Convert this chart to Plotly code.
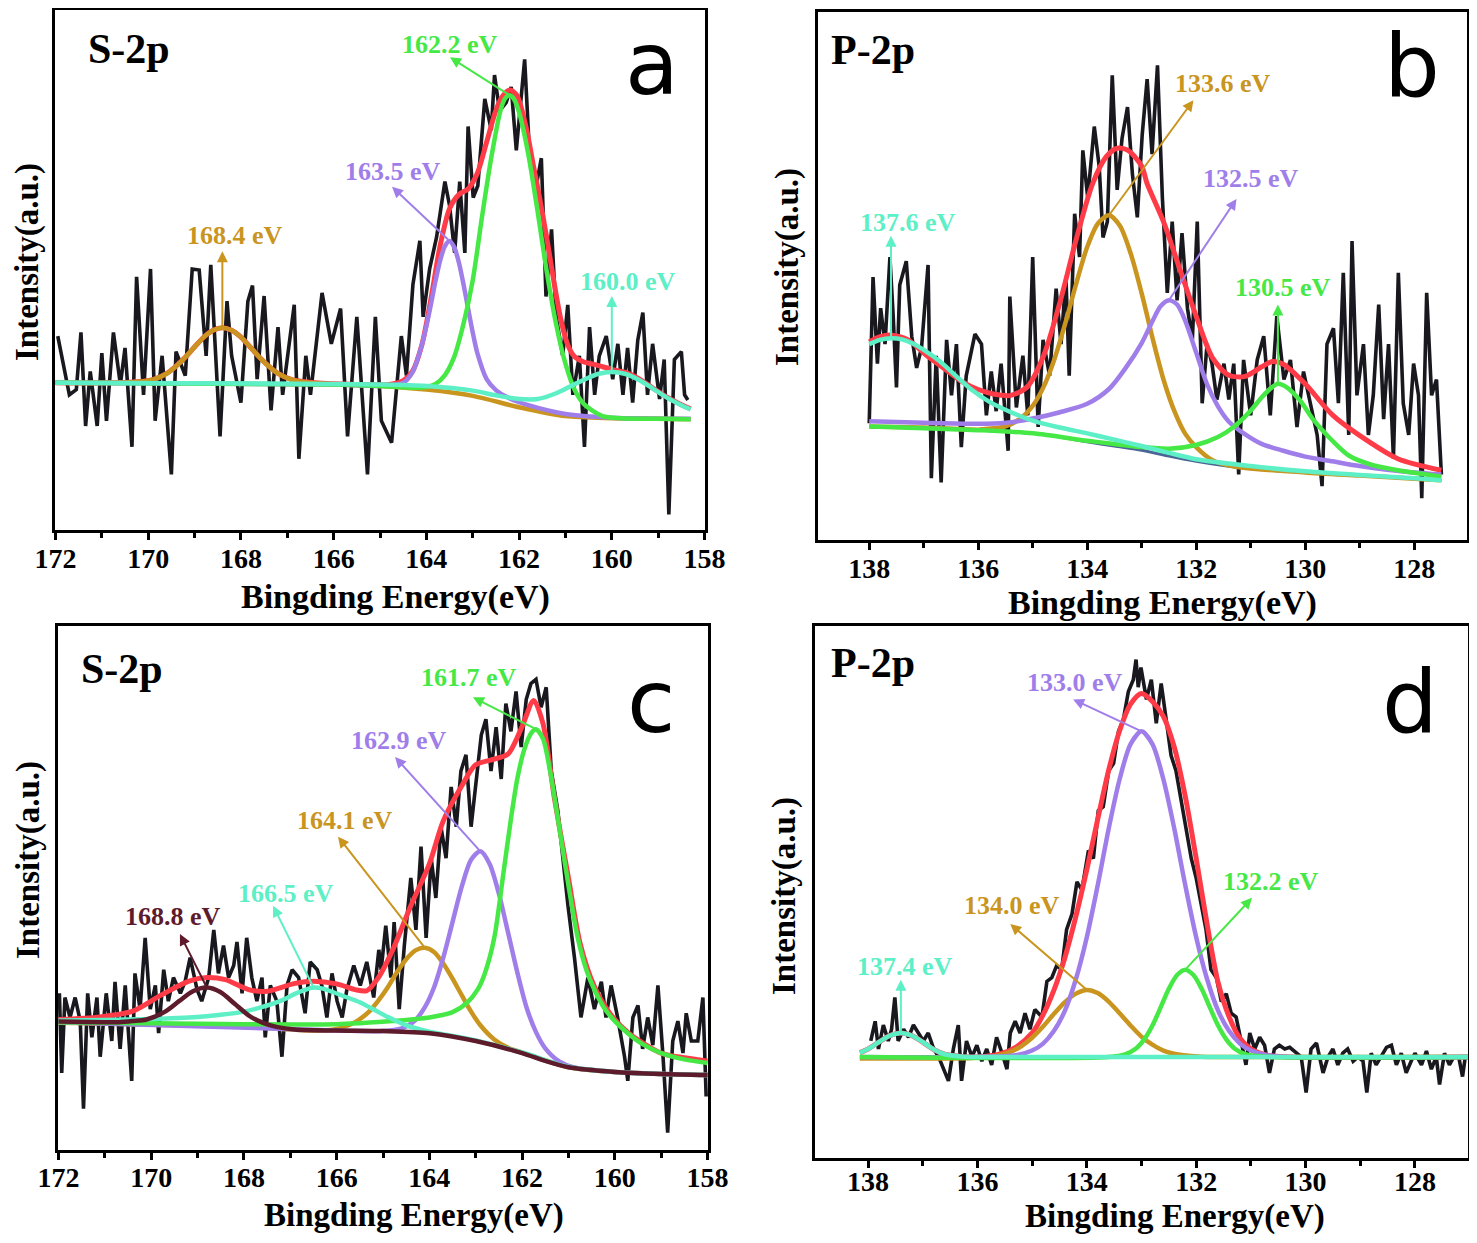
import plotly.graph_objects as go

# page is 1477 x 1243, the html body adds an 8 px margin on every side
PAGE_W, PAGE_H = 1477, 1243
OFF = 8
W, H = PAGE_W - 2 * OFF, PAGE_H - 2 * OFF

# ---------------- colours ----------------
RED = '#FF3B47'
GREEN = '#46E846'
PURPLE = '#A07EEA'
ORANGE = '#C9951F'
CYAN = '#5DEFC6'
MAROON = '#5E1B2C'
BLACK = '#18181e'
STEEL = '#4B6596'

# ---------------- panel a : S-2p ----------------
A_DATA = [(171.95, 37.3), (171.8, 30), (171.7, 26), (171.55, 27), (171.45, 38), (171.35, 20), (171.25, 30.5),
          (171.1, 20), (171.0, 34), (170.9, 21), (170.75, 38), (170.6, 28), (170.5, 35), (170.35, 16),
          (170.25, 48.7), (170.1, 26), (169.95, 50.2), (169.85, 21), (169.7, 33.5), (169.5, 10.7),
          (169.4, 34.3), (169.2, 29.7), (169.05, 50.2), (168.9, 50), (168.75, 33.5), (168.65, 51),
          (168.45, 18), (168.3, 44), (168.2, 33.5), (168.0, 24.5), (167.85, 44), (167.75, 47), (167.65, 29),
          (167.5, 45), (167.35, 23), (167.2, 39), (167.1, 26), (166.85, 43.3), (166.75, 13.7), (166.6, 33.5),
          (166.5, 26), (166.25, 45.6), (166.05, 35.8), (165.85, 42.6), (165.7, 18), (165.5, 41),
          (165.27, 10.7), (165.1, 41), (164.97, 21), (164.75, 16.8), (164.54, 37.3), (164.43, 29.7),
          (164.29, 47.2), (164.14, 55.6), (164.07, 41), (163.93, 50.2), (163.78, 56.3), (163.6, 67),
          (163.5, 62.4), (163.39, 53.3), (163.28, 67), (163.17, 53.3), (163.1, 77.6), (162.99, 63.9),
          (162.89, 66.2), (162.74, 82.9), (162.6, 76.9), (162.53, 87.5), (162.42, 80.6), (162.28, 82.2),
          (162.17, 85.2), (162.06, 73), (161.88, 90.5), (161.77, 71.5), (161.63, 66.2), (161.52, 71.5),
          (161.42, 44.9), (161.3, 57.8), (161.2, 41), (161.06, 33.5), (160.95, 43.3), (160.84, 26),
          (160.7, 33.5), (160.59, 16), (160.48, 39), (160.37, 26), (160.27, 33.5), (160.12, 37.3),
          (159.98, 29), (159.87, 35.8), (159.76, 26), (159.66, 35), (159.55, 24.5), (159.44, 36.5),
          (159.33, 41.8), (159.23, 26), (159.12, 35.8), (158.97, 25.2), (158.87, 32.8), (158.77, 3),
          (158.65, 32.8), (158.5, 34.3), (158.43, 26), (158.36, 25)]

A_ORANGE = [(172, 28.3), (170.4, 28.4), (169.9, 28.9), (169.6, 30.1), (169.4, 31.5), (169.2, 33.2), (169.0, 35.2),
            (168.8, 37.1), (168.6, 38.4), (168.4, 38.9), (168.2, 38.4), (168.0, 37.1), (167.8, 35.2),
            (167.6, 33.2), (167.4, 31.5), (167.2, 30.1), (166.9, 28.9), (166.4, 28.2), (165, 27.7),
            (164, 27.0), (163, 25.8), (162, 23.6), (161, 21.9), (160, 21.5), (159, 21.4), (158.3, 21.3)]
A_PURPLE = [(172, 28.3), (166, 28.0), (165, 27.7), (164.5, 28.3), (164.3, 30.3), (164.1, 35.5), (164.0, 39.2),
            (163.9, 43.5), (163.8, 48.0), (163.7, 51.9), (163.6, 54.6), (163.5, 55.6), (163.4, 54.4),
            (163.3, 51.5), (163.2, 47.3), (163.1, 42.6), (163.0, 38.0), (162.9, 34.0), (162.7, 29.0),
            (162.5, 26.9), (162.2, 25.3), (161.8, 24.0), (161.0, 22.3), (160, 21.6), (158.3, 21.4)]
A_GREEN = [(172, 28.3), (166, 28.0), (165, 27.7), (164.6, 27.5), (164.2, 27.35), (164.0, 27.5), (163.8, 28.1),
           (163.6, 29.8), (163.4, 33.3), (163.2, 39.6), (163.0, 48.0), (162.8, 60.2), (162.6, 71.6),
           (162.4, 80.7), (162.3, 83.0), (162.2, 83.6), (162.1, 82.7), (162.0, 80.3), (161.8, 72.2),
           (161.6, 61.2), (161.4, 49.5), (161.2, 39.5), (161.0, 32.0), (160.8, 26.9), (160.6, 24.2),
           (160.2, 21.9), (159.8, 21.5), (159, 21.4), (158.3, 21.3)]
A_CYAN = [(172, 28.3), (166, 28.1), (165, 28.0), (164, 27.7), (163, 26.8), (162.5, 25.9), (162.0, 25.2),
          (161.6, 25.2), (161.2, 26.3), (160.9, 27.6), (160.6, 28.9), (160.3, 30.0), (160.0, 30.4),
          (159.7, 30.0), (159.4, 28.8), (159.1, 27.1), (158.8, 25.4), (158.5, 24.0), (158.3, 23.2)]
A_RED = [(172, 28.3), (170.4, 28.4), (169.9, 28.9), (169.6, 30.1), (169.4, 31.5), (169.2, 33.2), (169.0, 35.2),
         (168.8, 37.1), (168.6, 38.4), (168.4, 38.9), (168.2, 38.4), (168.0, 37.1), (167.8, 35.2), (167.6, 33.2),
         (167.4, 31.5), (167.2, 30.1), (166.9, 28.9), (166.4, 28.3), (165.5, 28.0), (164.8, 28.0), (164.5, 28.7),
         (164.3, 30.5), (164.1, 35.5), (163.9, 44.5), (163.7, 54.8), (163.5, 61.8), (163.3, 64.5), (163.1, 65.6),
         (162.9, 68.6), (162.7, 74.6), (162.5, 80.7), (162.35, 83.5), (162.2, 84.6), (162.05, 83.6),
         (161.85, 77.5), (161.7, 70.5), (161.55, 63.5), (161.4, 56.0), (161.25, 47.8), (161.1, 40.5),
         (160.95, 35.6), (160.8, 33.3), (160.6, 32.3), (160.4, 31.9), (160.2, 31.4), (160.0, 30.9),
         (159.7, 30.3), (159.4, 29.0), (159.1, 27.2), (158.8, 25.5), (158.5, 24.1), (158.3, 23.3)]
A_PEAKS = [168.4, 163.5, 162.2, 160.0]

# ---------------- panel b : P-2p ----------------
B_DATA = [(138.0, 22.1), (137.93, 49.8), (137.85, 33.4), (137.79, 43.9), (137.71, 37.1), (137.62, 53.6),
          (137.56, 42.4), (137.5, 28.9), (137.44, 48.3), (137.32, 52.8), (137.22, 38.6), (137.13, 32.6),
          (137.04, 36.4), (136.92, 52.1), (136.86, 11.7), (136.77, 34.9), (136.68, 10.9), (136.58, 37.9),
          (136.49, 27.4), (136.4, 37.1), (136.31, 17.6), (136.22, 31.1), (136.06, 39.0), (135.94, 37.1),
          (135.85, 23.6), (135.76, 31.9), (135.67, 24.4), (135.58, 33.4), (135.45, 16.9), (135.42, 46.1),
          (135.3, 25.1), (135.18, 34.9), (135.09, 23.6), (135.0, 53.6), (134.9, 21.4), (134.81, 37.9),
          (134.69, 31.1), (134.57, 47.6), (134.48, 37.1), (134.39, 49.8), (134.33, 31.1), (134.23, 61.8),
          (134.14, 53.6), (134.08, 73.8), (133.99, 64.8), (133.87, 78.3), (133.78, 70.8), (133.71, 57.3),
          (133.63, 60.3), (133.54, 88.0), (133.45, 66.3), (133.36, 76.1), (133.26, 82.0), (133.17, 69.3),
          (133.08, 61.1), (132.99, 76.8), (132.9, 87.3), (132.81, 73.1), (132.71, 89.9), (132.62, 64.8),
          (132.53, 46.8), (132.44, 60.3), (132.35, 45.4), (132.26, 58.1), (132.16, 43.9), (132.07, 37.9),
          (131.98, 60.3), (131.89, 25.9), (131.8, 37.1), (131.71, 33.4), (131.62, 26.6), (131.49, 33.4),
          (131.4, 26.6), (131.31, 33.4), (131.22, 12.4), (131.13, 34.1), (131.0, 23.6), (130.88, 34.1),
          (130.76, 38.6), (130.64, 23.6), (130.52, 42.4), (130.39, 30.4), (130.27, 34.1), (130.15, 21.4),
          (130.03, 31.9), (129.91, 25.9), (129.78, 19.9), (129.69, 10.2), (129.6, 37.1), (129.48, 40.1),
          (129.39, 25.9), (129.3, 50.6), (129.2, 19.9), (129.14, 56.6), (129.05, 27.4), (128.93, 37.1),
          (128.84, 19.9), (128.75, 27.4), (128.65, 44.6), (128.56, 22.9), (128.47, 37.1), (128.38, 15.4),
          (128.29, 50.6), (128.2, 25.9), (128.1, 19.9), (128.01, 33.4), (127.92, 27.4), (127.86, 7.9),
          (127.77, 46.8), (127.68, 27.4), (127.59, 30.4), (127.5, 12.4)]
B_BG = [(138, 21.5), (137, 21.2), (136, 20.8), (135, 20.2), (134.5, 19.5), (134, 18.6), (133.5, 17.8), (133, 17.0),
        (132.5, 15.9), (132, 14.9), (131.5, 14.1), (131, 13.5), (130, 12.8), (129, 12.2), (128, 11.6),
        (127.5, 11.3)]
B_ORANGE = [(138, 21.5), (137, 21.3), (136, 20.9), (135.9, 21.0), (135.5, 21.5), (135.2, 23.2), (135.0, 25.4),
            (134.8, 29.0), (134.6, 34.3), (134.4, 41.1), (134.2, 48.6), (134.0, 55.5), (133.8, 60.0),
            (133.6, 61.5), (133.4, 59.5), (133.2, 54.2), (133.0, 46.7), (132.8, 38.2), (132.6, 30.4),
            (132.4, 24.4), (132.2, 20.1), (132.0, 17.6), (131.7, 15.1), (131.3, 13.9), (130, 12.8), (129, 12.2),
            (128, 11.6), (127.5, 11.3)]
B_PURPLE = [(138, 22.5), (137, 22.2), (136, 22.0), (135.5, 22.2), (135, 23.0), (134.5, 24.2), (134, 25.8),
            (133.6, 28.6), (133.3, 32.5), (133.0, 37.3), (132.8, 41.5), (132.65, 44.3), (132.5, 45.4),
            (132.35, 44.6), (132.2, 41.5), (132.0, 35.5), (131.8, 29.5), (131.6, 25.3), (131.4, 22.4),
            (131.1, 20.0), (130.8, 18.2), (130.4, 16.9), (130.0, 15.8), (129.5, 14.9), (129, 14.0), (128.5, 13.3),
            (128, 12.8), (127.5, 12.4)]
B_GREEN = [(138, 21.5), (136, 20.8), (135, 20.2), (134, 18.8), (133.5, 18.2), (133, 17.6), (132.5, 17.3),
           (132, 18.0), (131.6, 19.5), (131.3, 21.5), (131.0, 24.5), (130.8, 27.0), (130.6, 29.0), (130.5, 29.6),
           (130.35, 29.0), (130.1, 26.5), (129.85, 22.8), (129.5, 18.8), (129.2, 16.0), (128.8, 14.3),
           (128.3, 13.2), (127.5, 12.0)]
B_CYAN = [(138, 37.1), (137.8, 37.9), (137.6, 38.2), (137.4, 38.0), (137.2, 37.2), (137.0, 36.0), (136.7, 33.8),
          (136.4, 31.0), (136.1, 28.3), (135.8, 26.2), (135.4, 24.2), (135.0, 22.6), (134.5, 21.3), (134, 20.2),
          (133.5, 19.0), (133, 17.8), (132.5, 16.5), (132, 15.3), (131, 14.0), (130, 13.0), (129, 12.3),
          (128, 11.7), (127.5, 11.3)]
B_RED = [(138, 37.5), (137.8, 38.5), (137.6, 38.8), (137.3, 38.0), (136.95, 35.0), (136.6, 32.3), (136.3, 30.0),
         (136.0, 28.5), (135.7, 27.6), (135.4, 27.4), (135.1, 29.0), (134.8, 34.9), (134.5, 45.0), (134.2, 57.0),
         (133.9, 67.5), (133.65, 72.6), (133.45, 74.2), (133.25, 73.8), (133.0, 70.8), (132.9, 67.5),
         (132.6, 60.3), (132.3, 51.3), (132.0, 42.4), (131.7, 34.5), (131.4, 31.2), (131.1, 31.0), (130.8, 32.8),
         (130.6, 33.8), (130.4, 33.3), (130.0, 29.6), (129.5, 23.7), (128.9, 19.1), (128.3, 15.4), (127.5, 13.2)]
B_PEAKS = [137.6, 133.6, 132.5, 130.5]

# ---------------- panel c : S-2p ----------------
C_DATA = [(171.98, 29.9), (171.93, 14.7), (171.86, 29.1), (171.75, 25.3), (171.64, 29.1), (171.53, 24.6),
          (171.46, 7.9), (171.37, 29.9), (171.28, 21.5), (171.17, 29.1), (171.1, 17.8), (170.97, 29.9),
          (170.85, 20.8), (170.78, 32.1), (170.67, 19.3), (170.56, 31.4), (170.42, 13.2), (170.35, 33.7),
          (170.24, 26.9), (170.13, 40.5), (170.02, 26.9), (169.91, 31.4), (169.84, 22.3), (169.73, 34.4),
          (169.63, 28.4), (169.52, 32.9), (169.37, 29.9), (169.27, 32.1), (169.16, 36.7), (169.01, 30.6),
          (168.91, 28.4), (168.76, 32.9), (168.65, 42.0), (168.55, 33.7), (168.44, 39.0), (168.33, 32.9),
          (168.22, 35.2), (168.15, 39.7), (168.04, 29.9), (167.94, 40.5), (167.83, 32.9), (167.72, 28.4),
          (167.61, 32.9), (167.54, 21.5), (167.43, 31.4), (167.29, 28.4), (167.18, 17.8), (167.07, 31.4),
          (166.96, 34.4), (166.82, 32.9), (166.68, 26.1), (166.57, 35.9), (166.42, 34.4), (166.32, 31.4),
          (166.21, 25.3), (166.1, 33.7), (165.99, 28.4), (165.88, 25.3), (165.78, 30.6), (165.63, 35.2),
          (165.49, 31.4), (165.35, 35.9), (165.2, 29.1), (165.09, 38.2), (165.04, 34.4), (164.94, 42.8),
          (164.83, 32.9), (164.76, 43.5), (164.65, 26.9), (164.54, 39.0), (164.4, 51.9), (164.29, 42.0),
          (164.18, 57.9), (164.07, 40.5), (163.96, 55.7), (163.86, 48.1), (163.75, 61.7), (163.64, 55.7),
          (163.53, 69.3), (163.42, 61.7), (163.32, 72.3), (163.21, 75.4), (163.1, 61.7), (162.99, 70.8),
          (162.88, 79.2), (162.78, 82.2), (162.67, 72.3), (162.56, 80.7), (162.45, 70.8), (162.35, 85.2),
          (162.24, 79.9), (162.13, 87.5), (162.02, 76.9), (161.91, 86.0), (161.81, 89.0), (161.7, 89.8),
          (161.59, 84.5), (161.48, 88.3), (161.37, 72.3), (161.23, 64.8), (161.12, 55.7), (161.01, 46.6),
          (160.87, 36.7), (160.73, 25.3), (160.58, 32.9), (160.44, 26.9), (160.29, 32.1), (160.19, 25.3),
          (160.08, 31.4), (159.94, 25.3), (159.79, 17.8), (159.72, 13.2), (159.61, 25.3), (159.5, 27.6),
          (159.4, 19.3), (159.29, 25.3), (159.18, 20.0), (159.07, 31.4), (158.96, 17.8), (158.86, 3.3),
          (158.75, 20.8), (158.64, 24.6), (158.53, 18.5), (158.46, 26.1), (158.35, 20.8), (158.21, 20.8),
          (158.1, 29.1), (158.03, 10.2)]
C_MAROON = [(172, 24.5), (171, 24.4), (170.7, 24.4), (170.4, 24.6), (170.1, 24.9), (169.7, 26.4), (169.4, 28.4),
            (169.1, 30.3), (168.8, 31.0), (168.5, 30.1), (168.2, 27.9), (167.9, 25.7), (167.6, 24.3),
            (167.3, 23.5), (166.9, 23.0), (166, 22.8), (165, 22.7), (164, 22.3), (163, 20.8), (162, 18.5),
            (161.5, 17.0), (161, 15.8), (160, 14.9), (159, 14.5), (158, 14.3)]
C_CYAN = [(172, 24.7), (171, 24.8), (170, 25.0), (169, 25.4), (168.5, 25.8), (168, 26.4), (167.6, 27.3),
          (167.2, 28.5), (166.9, 29.8), (166.7, 30.5), (166.5, 31.0), (166.3, 30.8), (166.1, 30.2),
          (165.8, 29.2), (165.5, 28.2), (165.2, 26.8), (164.9, 25.4), (164.5, 23.8), (164, 22.6), (163, 20.9),
          (162, 18.6), (161, 15.9), (160, 14.9), (158, 14.3)]
C_ORANGE = [(172, 24.3), (168, 23.5), (166.3, 22.8), (165.9, 23.3), (165.6, 24.4), (165.3, 26.4), (165.1, 28.5),
            (164.9, 31.0), (164.7, 33.9), (164.5, 36.4), (164.3, 38.1), (164.1, 38.6), (163.9, 37.8),
            (163.7, 35.6), (163.5, 32.7), (163.3, 29.5), (163.1, 26.4), (162.9, 23.8), (162.6, 21.1),
            (162.3, 19.5), (162, 18.6), (161, 15.8), (160, 14.9), (158, 14.3)]
C_PURPLE = [(172, 24.4), (166, 22.8), (165, 22.7), (164.6, 23.2), (164.3, 24.8), (164.1, 27.2), (163.9, 31.0),
            (163.7, 36.7), (163.5, 43.5), (163.3, 50.3), (163.1, 55.4), (162.9, 57.0), (162.7, 54.6),
            (162.5, 48.9), (162.3, 41.4), (162.1, 33.8), (161.9, 27.1), (161.7, 22.5), (161.5, 19.4),
            (161.2, 16.9), (160.9, 15.8), (160, 14.9), (158, 14.3)]
C_GREEN = [(172, 24.4), (170, 24.2), (168, 24.0), (166, 24.0), (165.5, 24.2), (164.8, 24.6), (164.0, 25.3),
           (163.5, 26.3), (163.2, 28.0), (162.96, 30.6), (162.8, 33.8), (162.6, 40.5), (162.4, 53.0),
           (162.24, 63.2), (162.1, 71.0), (161.95, 76.5), (161.8, 79.6), (161.7, 80.3), (161.55, 78.5),
           (161.4, 72.5), (161.25, 64.5), (161.16, 59.4), (161.0, 50.5), (160.8, 40.5), (160.6, 34.0),
           (160.44, 30.6), (160.2, 26.7), (160.0, 24.6), (159.72, 22.3), (159.4, 20.2), (159.0, 18.5),
           (158.5, 17.3), (158.0, 16.6)]
C_RED = [(172, 24.9), (171.1, 25.4), (170.4, 26.5), (169.8, 29.5), (169.2, 32.2), (168.8, 32.9), (168.4, 32.5),
         (167.9, 30.6), (167.5, 30.3), (166.9, 31.8), (166.5, 32.2), (166.0, 31.7), (165.6, 30.6), (165.35, 30.4),
         (165.1, 32.9), (164.8, 38.0), (164.4, 46.6), (164.0, 54.6), (163.7, 62.8), (163.3, 69.5), (163.0, 73.5),
         (162.6, 74.6), (162.3, 75.6), (162.0, 80.8), (161.75, 85.8), (161.55, 81.4), (161.3, 67.0),
         (161.0, 51.9), (160.75, 39.5), (160.45, 31.4), (160.1, 26.0), (159.7, 22.3), (159.0, 18.5),
         (158.5, 17.6), (158.0, 17.0)]
C_PEAKS = [168.8, 166.5, 164.1, 162.9, 161.7]

# ---------------- panel d : P-2p ----------------
D_DATA = [(137.95, 22.0), (137.87, 25.7), (137.81, 20.5), (137.72, 25.0), (137.63, 22.0), (137.57, 24.2),
          (137.51, 30.2), (137.45, 22.0), (137.35, 24.2), (137.26, 22.7), (137.17, 25.0), (137.08, 23.5),
          (136.99, 22.0), (136.9, 23.5), (136.8, 20.5), (136.71, 19.0), (136.62, 16.7), (136.53, 14.5),
          (136.44, 20.5), (136.35, 25.0), (136.29, 14.5), (136.2, 22.0), (136.1, 19.0), (136.01, 21.2),
          (135.92, 18.2), (135.83, 20.5), (135.74, 17.5), (135.65, 22.7), (135.55, 19.7), (135.46, 16.7),
          (135.4, 23.5), (135.31, 25.7), (135.22, 23.5), (135.13, 27.2), (135.04, 24.2), (134.95, 27.9),
          (134.82, 26.5), (134.73, 33.2), (134.64, 33.9), (134.55, 36.2), (134.46, 35.4), (134.37, 42.9),
          (134.27, 45.9), (134.18, 51.9), (134.09, 50.4), (133.97, 57.8), (133.88, 56.3), (133.79, 65.3),
          (133.7, 66.0), (133.6, 72.8), (133.51, 74.2), (133.42, 80.2), (133.33, 82.5), (133.24, 87.7),
          (133.15, 89.9), (133.1, 93.7), (133.06, 88.5), (133.01, 92.2), (132.91, 86.2), (132.82, 89.9),
          (132.73, 81.7), (132.64, 89.2), (132.55, 82.5), (132.46, 75.7), (132.37, 72.8), (132.27, 66.8),
          (132.18, 62.3), (132.09, 56.3), (132.0, 52.6), (131.91, 47.4), (131.82, 42.9), (131.73, 35.4),
          (131.63, 33.9), (131.54, 29.4), (131.45, 30.9), (131.36, 27.2), (131.27, 26.5), (131.18, 22.0),
          (131.09, 17.5), (131.02, 23.5), (130.93, 20.5), (130.84, 22.7), (130.75, 21.2), (130.66, 16.0),
          (130.57, 20.5), (130.48, 21.2), (130.38, 20.5), (130.29, 20.8), (130.17, 19.7), (130.08, 19.0),
          (129.99, 12.3), (129.9, 20.5), (129.8, 21.6), (129.68, 16.0), (129.59, 19.0), (129.5, 20.5),
          (129.41, 17.5), (129.32, 19.7), (129.23, 20.5), (129.13, 18.2), (129.04, 19.0), (128.95, 18.2),
          (128.88, 12.3), (128.8, 19.7), (128.71, 17.5), (128.62, 19.0), (128.52, 20.8), (128.43, 21.2),
          (128.34, 17.5), (128.25, 19.7), (128.16, 16.0), (128.07, 18.2), (128.0, 19.7), (127.88, 17.5),
          (127.79, 20.1), (127.7, 16.7), (127.61, 19.0), (127.55, 13.8), (127.46, 19.7), (127.37, 17.5),
          (127.29, 19.0), (127.2, 19.0), (127.13, 15.3), (127.08, 19.0)]
D_CYAN = [(138.15, 19.8), (138.0, 20.5), (137.8, 21.8), (137.6, 23.0), (137.4, 23.5), (137.2, 23.0), (137.0, 21.8),
          (136.8, 20.4), (136.6, 19.5), (136.3, 19.1), (136.0, 19.0), (127.0, 19.0)]
D_ORANGE = [(138.15, 18.7), (136.1, 18.8), (135.7, 19.1), (135.4, 19.95), (135.2, 21.0), (135.0, 22.6),
            (134.8, 24.7), (134.6, 27.1), (134.4, 29.3), (134.2, 30.9), (134.0, 31.6), (133.8, 31.0),
            (133.6, 29.4), (133.4, 27.2), (133.2, 24.9), (133.0, 22.8), (132.8, 21.3), (132.6, 20.2),
            (132.3, 19.4), (131.9, 19.05), (131.5, 19.0), (127.0, 19.0)]
D_PURPLE = [(138.15, 19.0), (136, 19.0), (135.3, 19.3), (135.0, 20.2), (134.8, 21.5), (134.6, 23.9), (134.4, 27.7),
            (134.2, 33.6), (134.0, 41.5), (133.8, 51.3), (133.6, 61.9), (133.4, 71.2), (133.2, 77.8),
            (133.0, 80.2), (132.8, 77.8), (132.6, 71.2), (132.4, 61.9), (132.2, 51.3), (132.0, 41.5),
            (131.8, 33.6), (131.6, 27.7), (131.4, 23.9), (131.2, 21.5), (131.0, 20.2), (130.7, 19.3),
            (130.3, 19.0), (127.0, 19.0)]
D_GREEN = [(138.15, 19.0), (133.6, 19.0), (133.3, 19.5), (133.1, 20.6), (132.95, 22.3), (132.8, 24.9),
           (132.65, 28.3), (132.5, 31.8), (132.35, 34.4), (132.2, 35.4), (132.05, 34.4), (131.9, 31.8),
           (131.75, 28.3), (131.6, 24.9), (131.45, 22.3), (131.3, 20.6), (131.1, 19.5), (130.8, 19.06),
           (127.0, 19.0)]
D_RED = [(138.15, 19.8), (138.0, 20.5), (137.8, 21.8), (137.6, 23.0), (137.4, 23.5), (137.2, 23.0), (137.0, 21.8),
         (136.8, 20.4), (136.6, 19.5), (136.3, 19.1), (136.0, 19.0), (135.6, 19.5), (135.3, 20.8), (135.0, 23.5),
         (134.8, 26.9), (134.6, 31.6), (134.4, 37.7), (134.2, 45.4), (134.0, 54.2), (133.8, 63.7), (133.6, 72.9),
         (133.4, 80.3), (133.2, 85.3), (133.0, 87.3), (132.8, 85.8), (132.6, 83.0), (132.4, 77.2), (132.2, 68.0),
         (132.0, 56.3), (131.8, 43.9), (131.6, 33.0), (131.4, 26.6), (131.2, 22.5), (131.0, 20.5), (130.7, 19.3),
         (130.3, 19.0), (127.0, 19.0)]
D_PEAKS = [137.4, 134.0, 133.0, 132.2]

TICK_FONT = dict(family='Liberation Serif, Times New Roman, serif', size=28, color='black', weight='bold')
SERIF = 'Liberation Serif, Times New Roman, serif'
SANS = 'DejaVu Sans, sans-serif'


def unzip(pairs):
    return [p[0] for p in pairs], [p[1] for p in pairs]


fig = go.Figure()
annotations = []


def px_x(v):
    return (v - OFF) / W


def px_y(v):
    return 1 - (v - OFF) / H


def add_panel(idx, box, xr, data, red, comps, labels, tag, tag_pos, letter, letter_pos, xt_pos, yt_pos,
              standoff=-6, xt_size=34):
    xa = 'x' if idx == 1 else 'x%d' % idx
    ya = 'y' if idx == 1 else 'y%d' % idx
    l, r, t, b = box
    xkey = 'xaxis' if idx == 1 else 'xaxis%d' % idx
    ykey = 'yaxis' if idx == 1 else 'yaxis%d' % idx
    fig.layout[xkey] = dict(domain=[px_x(l), px_x(r)], range=xr, anchor=ya, showline=True, linecolor='black',
                            linewidth=3, mirror=True, ticks='outside', ticklen=7, tickwidth=3, tickcolor='black',
                            dtick=2, tick0=0, showgrid=False, zeroline=False, tickfont=TICK_FONT,
                            ticklabelstandoff=standoff, automargin=False,
                            minor=dict(dtick=1, tick0=0, ticks='outside', ticklen=5, tickwidth=2.5,
                                       tickcolor='black'))
    fig.layout[ykey] = dict(domain=[px_y(b), px_y(t)], range=[0, 100], anchor=xa, showline=True,
                            linecolor='black', linewidth=3, mirror=True, ticks='', showticklabels=False,
                            showgrid=False, zeroline=False, automargin=False)
    ex, ey = unzip(data)
    fig.add_trace(go.Scatter(x=ex, y=ey, mode='lines', line=dict(color=BLACK, width=3.6),
                             xaxis=xa, yaxis=ya, showlegend=False, hoverinfo='skip'))
    rx, ry = unzip(red)
    fig.add_trace(go.Scatter(x=rx, y=ry, mode='lines', line=dict(color=RED, width=5, shape='spline',
                                                                  smoothing=0.8),
                             xaxis=xa, yaxis=ya, showlegend=False, hoverinfo='skip'))
    for pairs, col, w in comps:
        cx, cy = unzip(pairs)
        fig.add_trace(go.Scatter(x=cx, y=cy, mode='lines', line=dict(color=col, width=w, shape='spline',
                                                                      smoothing=0.8),
                                 xaxis=xa, yaxis=ya, showlegend=False, hoverinfo='skip'))
    for center, pairs, col, head, txt in labels:
        peak_y = max(p[1] for p in pairs)
        annotations.append(dict(x=head[0], y=head[1], ax=center, ay=peak_y, xref=xa, yref=ya, axref=xa,
                                ayref=ya, text='', showarrow=True, arrowhead=2, arrowsize=1.1,
                                arrowwidth=2, arrowcolor=col, standoff=0, startstandoff=0))
        annotations.append(dict(x=txt[0], y=txt[1], xref=xa, yref=ya, text='%.1f eV' % center,
                                showarrow=False, xanchor='center', yanchor='middle',
                                font=dict(family=SERIF, size=26, color=col, weight='bold')))
    annotations.append(dict(x=px_x(tag_pos[0]), y=px_y(tag_pos[1]), xref='paper', yref='paper', text=tag,
                            showarrow=False, xanchor='left', yanchor='middle',
                            font=dict(family=SERIF, size=42, color='black', weight='bold')))
    annotations.append(dict(x=px_x(letter_pos[0]), y=px_y(letter_pos[1]), xref='paper', yref='paper',
                            text=letter, showarrow=False, xanchor='center', yanchor='middle',
                            font=dict(family=SANS, size=88, color='black')))
    annotations.append(dict(x=px_x(xt_pos[0]), y=px_y(xt_pos[1]), xref='paper', yref='paper',
                            text='Bingding Energy(eV)', showarrow=False, xanchor='center', yanchor='middle',
                            font=dict(family=SERIF, size=xt_size, color='black', weight='bold')))
    annotations.append(dict(x=px_x(yt_pos[0]), y=px_y(yt_pos[1]), xref='paper', yref='paper',
                            text='Intensity(a.u.)', showarrow=False, xanchor='center', yanchor='middle',
                            textangle=-90,
                            font=dict(family=SERIF, size=33, color='black', weight='bold')))


add_panel(1, (55, 705, 10, 530), [172.01, 157.99], A_DATA, A_RED,
          [(A_ORANGE, ORANGE, 4.5), (A_PURPLE, PURPLE, 4.5), (A_GREEN, GREEN, 4.5), (A_CYAN, CYAN, 4.5)],
          [(A_PEAKS[0], A_ORANGE, ORANGE, (A_PEAKS[0], 53.6), (168.12, 56.6)),
           (A_PEAKS[1], A_PURPLE, PURPLE, (164.74, 66.0), (164.72, 68.9)),
           (A_PEAKS[2], A_GREEN, GREEN, (163.49, 90.9), (163.5, 93.4)),
           (A_PEAKS[3], A_CYAN, CYAN, (A_PEAKS[3], 45.0), (159.65, 47.8))],
          'S-2p', (86, 49), 'a', (652, 63), (396, 597), (28, 262))

add_panel(2, (818, 1467, 12, 540), [138.94, 127.03], B_DATA, B_RED,
          [(B_BG, STEEL, 3), (B_ORANGE, ORANGE, 4.5), (B_PURPLE, PURPLE, 4.5), (B_GREEN, GREEN, 4.5),
           (B_CYAN, CYAN, 4.5)],
          [(B_PEAKS[0], B_CYAN, CYAN, (B_PEAKS[0], 57.6), (137.28, 60.2)),
           (B_PEAKS[1], B_ORANGE, ORANGE, (132.05, 83.3), (131.51, 86.4)),
           (B_PEAKS[2], B_PURPLE, PURPLE, (131.26, 64.6), (130.99, 68.4)),
           (B_PEAKS[3], B_GREEN, GREEN, (B_PEAKS[3], 44.6), (130.41, 47.8))],
          'P-2p', (829, 50), 'b', (1412, 65), (1162, 603), (787, 267))

add_panel(3, (58, 708, 626, 1150), [172.01, 157.99], C_DATA, C_RED,
          [(C_ORANGE, ORANGE, 4.5), (C_PURPLE, PURPLE, 4.5), (C_GREEN, GREEN, 4.5), (C_CYAN, CYAN, 4.5),
           (C_MAROON, MAROON, 4.5)],
          [(C_PEAKS[0], C_MAROON, MAROON, (169.38, 41.2), (169.52, 44.6)),
           (C_PEAKS[1], C_CYAN, CYAN, (167.37, 46.6), (167.1, 49.0)),
           (C_PEAKS[2], C_ORANGE, ORANGE, (165.97, 59.8), (165.81, 62.9)),
           (C_PEAKS[3], C_PURPLE, PURPLE, (164.74, 75.0), (164.66, 78.1)),
           (C_PEAKS[4], C_GREEN, GREEN, (163.06, 86.4), (163.14, 90.2))],
          'S-2p', (79, 669), 'c', (651, 701), (414, 1215), (28, 860), standoff=-7, xt_size=33)

add_panel(4, (815, 1468, 626, 1158), [138.97, 127.03], D_DATA, D_RED,
          [(D_ORANGE, ORANGE, 4.5), (D_PURPLE, PURPLE, 4.5), (D_GREEN, GREEN, 4.5), (D_CYAN, CYAN, 4.5)],
          [(D_PEAKS[0], D_CYAN, CYAN, (D_PEAKS[0], 33.5), (137.32, 36.0)),
           (D_PEAKS[1], D_ORANGE, ORANGE, (135.4, 44.0), (135.36, 47.4)),
           (D_PEAKS[2], D_PURPLE, PURPLE, (134.25, 86.2), (134.22, 89.4)),
           (D_PEAKS[3], D_GREEN, GREEN, (130.98, 48.9), (130.64, 51.9))],
          'P-2p', (829, 663), 'd', (1410, 701), (1175, 1216.5), (784, 896), standoff=-11, xt_size=33)

fig.update_layout(width=W, height=H, margin=dict(l=0, r=0, t=0, b=0, autoexpand=False),
                  paper_bgcolor='white', plot_bgcolor='white', showlegend=False, annotations=annotations)

fig.write_html('out.html')
